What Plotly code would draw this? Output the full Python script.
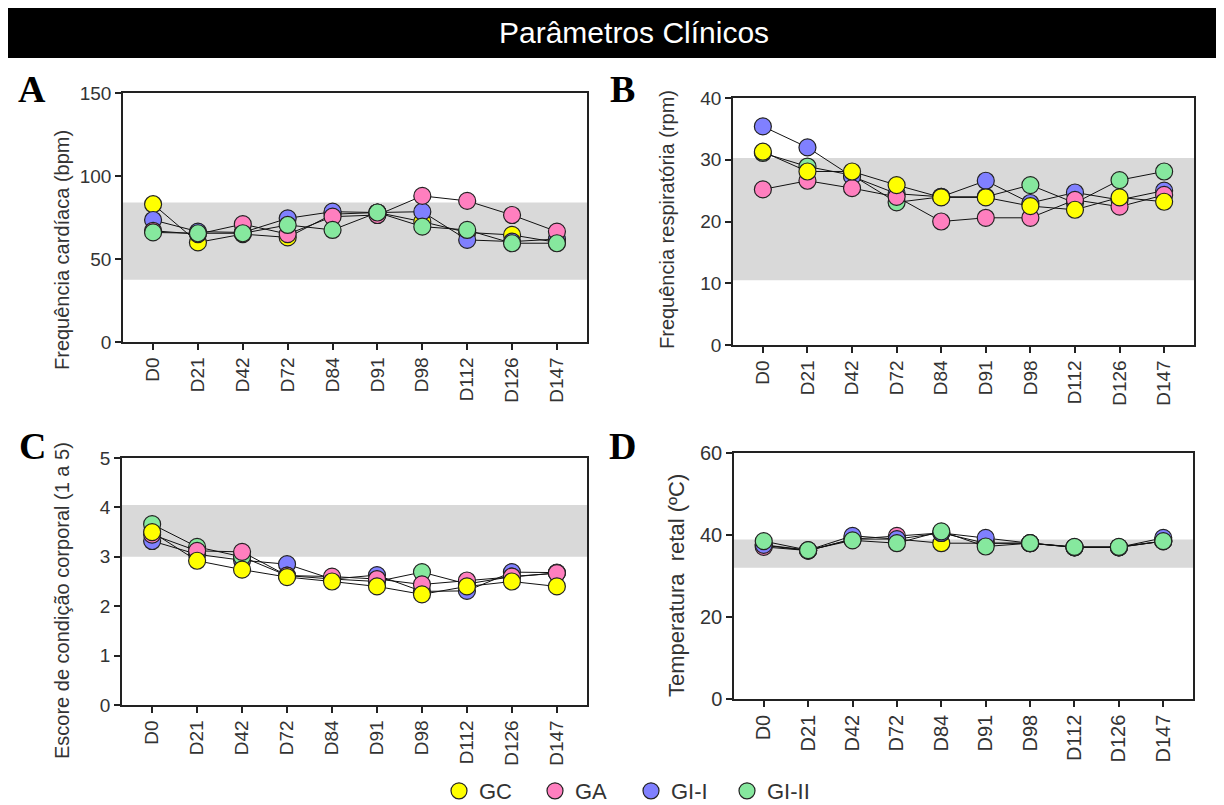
import plotly.graph_objects as go

days = ["D0", "D21", "D42", "D72", "D84", "D91", "D98", "D112", "D126", "D147"]
groups = ["GC", "GA", "GI-I", "GI-II"]
colors = {"GC": "#FFFF00", "GA": "#FF7FBF", "GI-I": "#8080FF", "GI-II": "#86E89E"}

# A - Frequência cardíaca (bpm)
fc_GC = [83, 60, 65, 63, 77, 78, 72.5, 66, 64.5, 60]
fc_GA = [67, 65, 71, 65, 75.5, 76.5, 88, 85, 76.5, 66.5]
fc_GI1 = [73.5, 66.5, 66, 74.5, 78.5, 78, 78.5, 61.5, 60.5, 62]
fc_GI2 = [66, 65.5, 65.5, 70.5, 67.5, 78, 69.5, 67.5, 59.5, 59.5]

# B - Frequência respiratória (rpm)
fr_GC = [31.3, 28.1, 28.1, 25.9, 23.9, 23.9, 22.5, 21.9, 23.9, 23.2]
fr_GA = [25.2, 26.6, 25.4, 24.0, 20.0, 20.6, 20.6, 23.5, 22.4, 24.3]
fr_GI1 = [35.4, 32.0, 27.3, 24.5, 24.0, 26.6, 23.0, 24.7, 23.5, 25.0]
fr_GI2 = [31.1, 28.9, 27.5, 23.1, 24.0, 24.0, 25.9, 23.0, 26.7, 28.1]

# C - Escore de condição corporal (1 a 5)
ecc_GC = [3.5, 2.92, 2.74, 2.59, 2.5, 2.4, 2.24, 2.4, 2.5, 2.4]
ecc_GA = [3.45, 3.12, 3.1, 2.62, 2.6, 2.55, 2.44, 2.52, 2.6, 2.67]
ecc_GI1 = [3.32, 3.05, 2.93, 2.85, 2.55, 2.63, 2.3, 2.31, 2.69, 2.68]
ecc_GI2 = [3.66, 3.2, 3.0, 2.62, 2.55, 2.5, 2.69, 2.45, 2.6, 2.67]

# D - Temperatura retal (ºC)
tr_GC = [37.5, 36.2, 39.0, 39.0, 38.0, 38.0, 38.0, 37.0, 37.0, 38.5]
tr_GA = [37.1, 36.2, 39.0, 39.8, 40.5, 38.0, 38.0, 37.0, 37.0, 38.5]
tr_GI1 = [37.6, 36.3, 39.8, 39.0, 40.5, 39.3, 38.0, 37.0, 37.0, 39.3]
tr_GI2 = [38.5, 36.3, 38.7, 38.0, 40.9, 37.2, 38.0, 37.1, 37.1, 38.5]

ref_A = [37.5, 84]
ref_B = [10.5, 30.3]
ref_C = [3.0, 4.05]
ref_D = [32.0, 38.9]

W, H = 1224, 805
OFF = 8  # page body margin


def fx(p):
    return (p - OFF) / W


def fy(p):
    return 1 - (p - OFF) / H


panels = [
    dict(letter="A", title="Frequência cardíaca (bpm)",
         data={"GC": fc_GC, "GA": fc_GA, "GI-I": fc_GI1, "GI-II": fc_GI2},
         order=["GC", "GI-I", "GA", "GI-II"], ref=ref_A, yr=[0, 150], dt=50,
         px=(123, 587), py=(93, 342), letter_xy=(32, 89), title_xy=(62, 250),
         fs=19, tfs=20),
    dict(letter="B", title="Frequência respiratória (rpm)",
         data={"GC": fr_GC, "GA": fr_GA, "GI-I": fr_GI1, "GI-II": fr_GI2},
         order=["GI-II", "GI-I", "GA", "GC"], ref=ref_B, yr=[0, 40], dt=10,
         px=(733, 1194), py=(98, 345), letter_xy=(622, 89), title_xy=(667, 220),
         fs=19, tfs=20),
    dict(letter="C", title="Escore de condição corporal (1 a 5)",
         data={"GC": ecc_GC, "GA": ecc_GA, "GI-I": ecc_GI1, "GI-II": ecc_GI2},
         order=["GI-I", "GI-II", "GA", "GC"], ref=ref_C, yr=[0, 5], dt=1,
         px=(122, 587), py=(458, 705), letter_xy=(32, 446), title_xy=(62, 601),
         fs=19, tfs=20),
    dict(letter="D", title="Temperatura  retal (ºC)",
         data={"GC": tr_GC, "GA": tr_GA, "GI-I": tr_GI1, "GI-II": tr_GI2},
         order=["GC", "GA", "GI-I", "GI-II"], ref=ref_D, yr=[0, 60], dt=20,
         px=(734, 1193), py=(453, 699), letter_xy=(622, 446), title_xy=(676, 585),
         fs=20, tfs=22),
]

FONT = "Liberation Sans, Arial, sans-serif"

fig = go.Figure()
layout = dict(
    width=W, height=H, margin=dict(l=0, r=0, t=0, b=0, pad=0, autoexpand=False),
    paper_bgcolor="white", plot_bgcolor="white",
    font=dict(family=FONT, color="#333333"),
    showlegend=True,
    shapes=[], annotations=[],
)

for i, p in enumerate(panels, start=1):
    xa = "x" if i == 1 else f"x{i}"
    ya = "y" if i == 1 else f"y{i}"
    xkey = "xaxis" if i == 1 else f"xaxis{i}"
    ykey = "yaxis" if i == 1 else f"yaxis{i}"
    for g in p["order"]:
        fig.add_trace(go.Scatter(
            x=days, y=p["data"][g], mode="lines+markers", name=g,
            xaxis=xa, yaxis=ya, showlegend=False, cliponaxis=False,
            line=dict(color="#111111", width=1),
            marker=dict(size=17, color=colors[g], line=dict(color="#222222", width=1.2)),
        ))
    x0, x1 = p["px"]
    y0, y1 = p["py"]
    layout[xkey] = dict(
        domain=[fx(x0), fx(x1)], anchor=ya, type="category",
        categoryorder="array", categoryarray=days, automargin=False,
        range=[-0.67, 9.67], showgrid=False, zeroline=False,
        showline=True, linecolor="#222222", linewidth=1.5, mirror=True,
        ticks="outside", ticklen=6, tickwidth=1.5, tickcolor="#222222",
        tickangle=-90, tickfont=dict(size=p["fs"], family=FONT, color="#333333"),
    )
    layout[ykey] = dict(
        domain=[fy(y1), fy(y0)], anchor=xa, automargin=False,
        range=p["yr"], showgrid=False, zeroline=False,
        tickmode="linear", tick0=0, dtick=p["dt"],
        showline=True, linecolor="#222222", linewidth=1.5, mirror=True,
        ticks="outside", ticklen=6, tickwidth=1.5, tickcolor="#222222",
        tickfont=dict(size=p["fs"], family=FONT, color="#333333"),
    )
    layout["shapes"].append(dict(
        type="rect", xref=f"{xa} domain", yref=ya, x0=0, x1=1,
        y0=p["ref"][0], y1=p["ref"][1], fillcolor="#D9D9D9",
        line=dict(width=0), layer="below",
    ))
    lx, ly = p["letter_xy"]
    layout["annotations"].append(dict(
        text=f"<b>{p['letter']}</b>", x=fx(lx), y=fy(ly), xref="paper", yref="paper",
        showarrow=False, xanchor="center", yanchor="middle",
        font=dict(family="Liberation Serif, Times New Roman, serif", size=38, color="black"),
    ))
    tx, ty = p["title_xy"]
    layout["annotations"].append(dict(
        text=p["title"], x=fx(tx), y=fy(ty), xref="paper", yref="paper",
        showarrow=False, xanchor="center", yanchor="middle", textangle=-90,
        font=dict(family=FONT, size=p["tfs"], color="#333333"),
    ))

# Title bar
layout["shapes"].append(dict(
    type="rect", xref="paper", yref="paper", x0=fx(8), x1=fx(1216),
    y0=fy(58), y1=fy(8), fillcolor="black", line=dict(width=0), layer="above",
))
layout["annotations"].append(dict(
    text="Parâmetros Clínicos", x=fx(634), y=fy(33), xref="paper", yref="paper",
    showarrow=False, xanchor="center", yanchor="middle",
    font=dict(family=FONT, size=30, color="white"),
))

# Legend entries
for g in groups:
    fig.add_trace(go.Scatter(
        x=[None], y=[None], mode="markers", name=g, showlegend=True,
        marker=dict(size=17, color=colors[g], line=dict(color="#222222", width=1.2)),
    ))

layout["legend"] = dict(
    orientation="h", x=fx(439), xanchor="left", y=fy(812), yanchor="bottom",
    font=dict(family=FONT, size=22, color="#333333"),
    entrywidth=51, entrywidthmode="pixels", bgcolor="rgba(0,0,0,0)",
    itemclick=False, itemdoubleclick=False,
)

fig.update_layout(**layout)
fig.write_html("out.html")
